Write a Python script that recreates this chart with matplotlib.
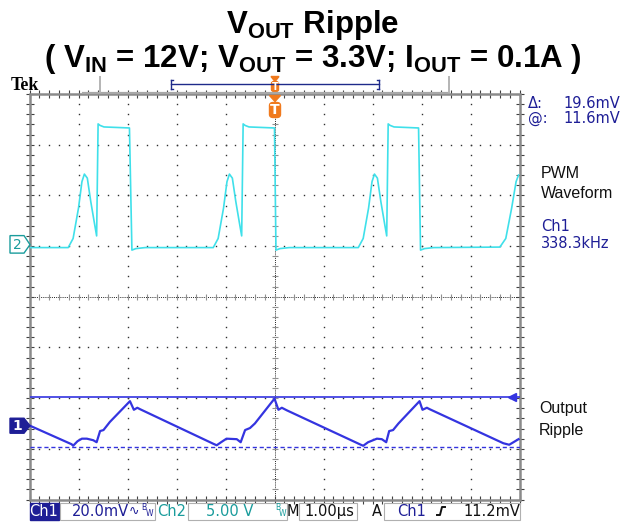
import numpy as np
import matplotlib
matplotlib.use("Agg")
import matplotlib.pyplot as plt
from matplotlib.patches import Polygon, Rectangle, FancyBboxPatch
from matplotlib.lines import Line2D

# ---------------- data (time in us, amplitude in divisions) ----------------
ch2_t = [0.00, 0.42, 0.79, 0.89, 1.00, 1.07, 1.12, 1.18, 1.25, 1.32, 1.37, 1.40, 1.44, 1.52, 2.04, 2.09, 2.17, 2.36,
         3.75, 3.85, 3.96, 4.03, 4.08, 4.14, 4.21, 4.28, 4.33, 4.36, 4.40, 4.48, 5.00, 5.03, 5.11, 5.30,
         6.71, 6.81, 6.92, 6.99, 7.04, 7.10, 7.17, 7.24, 7.29, 7.32, 7.36, 7.44, 7.94, 7.98, 8.06, 8.25,
         9.60, 9.72, 9.84, 9.93, 9.98]
ch2_v = [0.97, 0.97, 0.97, 1.15, 1.75, 2.27, 2.42, 2.34, 1.88, 1.48, 1.20, 3.41, 3.38, 3.35, 3.33, 0.92, 0.95, 0.97,
         0.97, 1.15, 1.75, 2.27, 2.42, 2.34, 1.88, 1.48, 1.20, 3.41, 3.38, 3.35, 3.33, 0.92, 0.95, 0.97,
         0.97, 1.15, 1.75, 2.27, 2.42, 2.34, 1.88, 1.48, 1.20, 3.41, 3.38, 3.35, 3.33, 0.92, 0.95, 0.97,
         0.98, 1.15, 1.75, 2.27, 2.40]

ch1_t = [0.00, 0.86, 0.89, 0.98, 1.07, 1.17, 1.30, 1.37, 1.44, 1.51, 1.64, 2.05, 2.13, 2.20, 2.26,
         3.75, 3.82, 3.91, 4.02, 4.23, 4.31, 4.40, 4.50, 4.60, 5.00, 5.08, 5.15, 5.25,
         6.74, 6.81, 6.91, 7.09, 7.19, 7.28, 7.34, 7.42, 7.53, 7.96, 8.02, 8.11, 8.17,
         9.67, 9.79, 9.98]
ch1_v = [-2.54, -2.91, -2.94, -2.85, -2.80, -2.80, -2.83, -2.87, -2.65, -2.63, -2.47, -2.06, -2.23, -2.19, -2.22,
         -2.90, -2.93, -2.87, -2.80, -2.81, -2.87, -2.63, -2.59, -2.50, -2.01, -2.23, -2.19, -2.24,
         -2.91, -2.94, -2.87, -2.80, -2.81, -2.87, -2.65, -2.63, -2.50, -2.06, -2.23, -2.19, -2.22,
         -2.89, -2.92, -2.81]

cursor_levels = [-1.98, -2.96]
ch2_ref = 0.98
ch1_ref = -2.55

title1 = r"$\mathrm{V_{OUT}}$ Ripple"
title2 = r"( $\mathrm{V_{IN}}$ = 12V; $\mathrm{V_{OUT}}$ = 3.3V; $\mathrm{I_{OUT}}$ = 0.1A )"
readout_delta = "19.6mV"
readout_at = "11.6mV"
freq_text = "338.3kHz"
status = {"ch1": "20.0mV", "ch2": "5.00 V", "time": "1.00\u00b5s", "trig": "11.2mV"}

# ---------------- styling ----------------
W, H = 621, 523
plt.rcParams['mathtext.fontset'] = 'custom'
plt.rcParams['mathtext.rm'] = 'Liberation Sans:bold'
plt.rcParams['mathtext.it'] = 'Liberation Sans:bold'
plt.rcParams['mathtext.bf'] = 'Liberation Sans:bold'

C_CYAN = '#3fe0ea'
C_BLUE = '#3434e0'
C_NAVY = '#1e1e96'
C_TEAL = '#1a9c9c'
C_ORANGE = '#f07a1e'
C_GRAY = '#8a8a8a'

fig = plt.figure(figsize=(W / 100, H / 100), dpi=100)
fig.patch.set_facecolor('white')


def P(x, y):
    return (x / W, 1 - y / H)


ax = fig.add_axes([29.5 / W, 1 - 499.5 / H, 490 / W, 405.5 / H])
ax.set_xlim(0, 10)
ax.set_ylim(-4, 4)
ax.axis('off')

# graticule
fine_x = np.arange(0, 10.001, 0.2)
fine_y = np.arange(-4, 4.001, 0.2)
for i in range(1, 10):
    if i == 5:
        continue
    ax.plot(np.full_like(fine_y, i), fine_y, ls='none', marker='s', ms=1.0, mec='none', mfc='#303030', zorder=1)
for j in range(-3, 4):
    if j == 0:
        continue
    ax.plot(fine_x, np.full_like(fine_x, j), ls='none', marker='s', ms=1.0, mec='none', mfc='#303030', zorder=1)
# center lines
ax.plot([0, 10], [0, 0], ls=(0, (1, 1.2)), color='#202020', lw=0.7, zorder=1)
ax.plot([5, 5], [-4, 4], ls=(0, (1, 1.2)), color='#202020', lw=0.7, zorder=1)
ax.plot(fine_x, np.zeros_like(fine_x), ls='none', marker='|', ms=5, mew=0.8, color='#909090', zorder=1)
ax.plot(np.full_like(fine_y, 5), fine_y, ls='none', marker='_', ms=5, mew=0.8, color='#909090', zorder=1)
# edge ticks
for yy in (-4, 4):
    ax.plot(fine_x, np.full_like(fine_x, yy), ls='none', marker='|', ms=6, mew=0.8, color='#404040', zorder=1, clip_on=False)
for xx in (0, 10):
    ax.plot(np.full_like(fine_y, xx), fine_y, ls='none', marker='_', ms=6, mew=0.8, color='#404040', zorder=1, clip_on=False)
ax.add_patch(Rectangle((0, -4), 10, 8, fill=False, ec=C_GRAY, lw=1.8, zorder=2, clip_on=False))

# traces
ax.plot(ch2_t, ch2_v, color=C_CYAN, lw=1.2, zorder=4)
ax.axhline(cursor_levels[0], color=C_BLUE, lw=1.2, zorder=3)
ax.axhline(cursor_levels[1], color=C_BLUE, lw=1.0, ls=(0, (3, 2)), zorder=3)
ax.plot(ch1_t, ch1_v, color=C_BLUE, lw=1.6, zorder=4)
ax.plot([9.84], [cursor_levels[0]], marker='<', ms=6, color=C_BLUE, zorder=5)

# title
fig.text(*P(313, 33.5), title1, ha='center', va='baseline', fontsize=22.5,
         family='Liberation Sans', fontweight='bold')
fig.text(*P(313, 67), title2, ha='center', va='baseline', fontsize=22.5,
         family='Liberation Sans', fontweight='bold')

# Tek label & top bar
fig.text(*P(11, 90.5), "Tek", ha='left', va='baseline', fontsize=13, family='Liberation Serif', fontweight='bold')
fig.add_artist(Line2D([83 / W, 449 / W], [1 - 92.5 / H] * 2, color='#a8a8a8', lw=1.6))
for xv in (100, 449):
    fig.add_artist(Line2D([xv / W] * 2, [1 - 77 / H, 1 - 92 / H], color='#b4b4b4', lw=1.4))
fig.add_artist(Line2D([171 / W, 379 / W], [1 - 84.3 / H] * 2, color='#1e2a8a', lw=1.0))
for xv, d in ((171, 1), (379, -1)):
    fig.add_artist(Line2D([xv / W] * 2, [1 - 79.5 / H, 1 - 89 / H], color='#1e2a8a', lw=1.0))
    fig.add_artist(Line2D([xv / W, (xv + 2 * d) / W], [1 - 79.5 / H] * 2, color='#1e2a8a', lw=1.0))
    fig.add_artist(Line2D([xv / W, (xv + 2 * d) / W], [1 - 89 / H] * 2, color='#1e2a8a', lw=1.0))

# trigger markers
fig.add_artist(Polygon([P(271, 76.5), P(279, 76.5), P(275, 81.5)], closed=True, color=C_ORANGE))
fig.add_artist(FancyBboxPatch(P(271.5, 91.5), 7 / W, 10 / H, boxstyle='round,pad=0,rounding_size=0.004',
                              color=C_ORANGE, transform=fig.transFigure))
fig.text(*P(275, 87), "T", ha='center', va='center', fontsize=7, color='white', fontweight='bold')
fig.add_artist(Polygon([P(269.5, 95.5), P(280.5, 95.5), P(275, 101.5)], closed=True, color=C_ORANGE))
fig.add_artist(FancyBboxPatch(P(269.5, 117.5), 11 / W, 15 / H, boxstyle='round,pad=0,rounding_size=0.006',
                              color=C_ORANGE, transform=fig.transFigure))
fig.text(*P(275, 110.5), "T", ha='center', va='center', fontsize=10, color='white', fontweight='bold')

# channel reference markers
ax_y = lambda v: 296.7 - v * 50.6
y2 = ax_y(ch2_ref) - 3
fig.add_artist(Polygon([P(10, y2 - 8.5), P(24, y2 - 8.5), P(30, y2 + 0.5), P(24, y2 + 9), P(10, y2 + 9)],
                       closed=True, fc='white', ec=C_TEAL, lw=1.0))
fig.text(*P(17.5, y2 + 0.5), "2", ha='center', va='center', fontsize=10, color=C_TEAL)
y1 = ax_y(ch1_ref)
fig.add_artist(Polygon([P(10, y1 - 7.5), P(24, y1 - 7.5), P(30, y1), P(24, y1 + 7.5), P(10, y1 + 7.5)],
                       closed=True, fc=C_NAVY, ec=C_NAVY, lw=1.0))
fig.text(*P(17.5, y1), "1", ha='center', va='center', fontsize=10, color='white', fontweight='bold')

# right-side readouts
fig.text(*P(528, 103.5), "\u0394:", ha='left', va='center', fontsize=10.5, color=C_NAVY)
fig.text(*P(620, 103.5), readout_delta, ha='right', va='center', fontsize=10.5, color=C_NAVY)
fig.text(*P(528, 118.5), "@:", ha='left', va='center', fontsize=10.5, color=C_NAVY)
fig.text(*P(620, 118.5), readout_at, ha='right', va='center', fontsize=10.5, color=C_NAVY)
fig.text(*P(541, 173.5), "PWM", ha='left', va='center', fontsize=11.5, family='Liberation Sans', color='#111111')
fig.text(*P(541, 194), "Waveform", ha='left', va='center', fontsize=11.5, family='Liberation Sans', color='#111111')
fig.text(*P(541, 227), "Ch1", ha='left', va='center', fontsize=10.5, color=C_NAVY)
fig.text(*P(541, 243), freq_text, ha='left', va='center', fontsize=10.5, color=C_NAVY)
fig.text(*P(539, 408.5), "Output", ha='left', va='center', fontsize=11.5, family='Liberation Sans', color='#111111')
fig.text(*P(539, 430), "Ripple", ha='left', va='center', fontsize=11.5, family='Liberation Sans', color='#111111')

# status bar
yb0, yb1 = 503, 519.5
yc = (yb0 + yb1) / 2
fig.add_artist(Rectangle(P(29.5, yb1), 29 / W, (yb1 - yb0) / H, fc=C_NAVY, ec=C_NAVY, transform=fig.transFigure))
fig.text(*P(44, yc), "Ch1", ha='center', va='center', fontsize=10.5, color='white')
for x0, x1 in ((60, 155), (188, 287), (299, 357), (384, 520)):
    fig.add_artist(Rectangle(P(x0, yb1), (x1 - x0) / W, (yb1 - yb0) / H, fc='white', ec='#b0b0b0', lw=0.8,
                             transform=fig.transFigure))
fig.text(*P(72, yc), status["ch1"], ha='left', va='center', fontsize=10.5, color=C_NAVY)
fig.text(*P(129, yc), "\u223f", ha='left', va='center', fontsize=9, color=C_NAVY)
fig.text(*P(141, yc - 3.5), "B", ha='left', va='center', fontsize=5.5, color=C_NAVY)
fig.text(*P(146, yc + 2.5), "W", ha='left', va='center', fontsize=5.5, color=C_NAVY)
fig.text(*P(157, yc), "Ch2", ha='left', va='center', fontsize=10.5, color=C_TEAL)
fig.text(*P(206, yc), status["ch2"], ha='left', va='center', fontsize=10.5, color=C_TEAL)
fig.text(*P(275, yc - 3.5), "B", ha='left', va='center', fontsize=5.5, color=C_TEAL)
fig.text(*P(279, yc + 2.5), "W", ha='left', va='center', fontsize=5.5, color=C_TEAL)
fig.text(*P(287, yc), "M", ha='left', va='center', fontsize=10.5, color='#111111')
fig.text(*P(304, yc), status["time"], ha='left', va='center', fontsize=10.5, color='#111111')
fig.text(*P(372, yc), "A", ha='left', va='center', fontsize=10.5, color='#111111')
fig.text(*P(397, yc), "Ch1", ha='left', va='center', fontsize=10.5, color=C_NAVY)
fig.add_artist(Line2D([437 / W, 440 / W, 442 / W, 445 / W], [1 - 515 / H, 1 - 515 / H, 1 - 507 / H, 1 - 507 / H],
                      color='#111111', lw=1.4))
fig.text(*P(520, yc), status["trig"], ha='right', va='center', fontsize=10.5, color='#111111')

fig.savefig("out.png", dpi=100, facecolor='white')
